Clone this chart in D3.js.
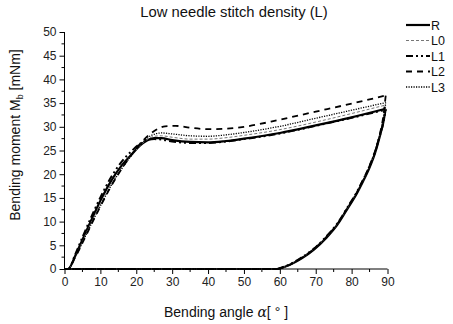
<!DOCTYPE html>
<html>
<head>
<meta charset="utf-8">
<script src="https://cdn.jsdelivr.net/npm/d3@7/dist/d3.min.js"></script>
<style>
  html, body { margin: 0; padding: 0; background: #fff; }
  svg { display: block; font-family: "Liberation Sans", Arial, sans-serif; }
</style>
</head>
<body>
<svg id="chart" width="453" height="324"></svg>
<script>
// Bending moment vs. bending angle, loading and unloading branches per sample
const seriesNames = ["R", "L0", "L1", "L2", "L3"];

// loading branch: [angle in deg, moment in mNm]
const loadR  = [[0,0],[1,0],[3,2.8],[5,6.2],[8,11.2],[10,14.4],[13,18.6],[16,21.9],[19,24.4],[21,26.0],[23,27.1],[25,27.6],[27,27.6],[30,27.2],[35,26.8],[40,26.7],[45,27.0],[50,27.5],[60,28.7],[70,30.3],[80,32.0],[89.5,33.8]];
const loadL0 = [[0,0],[1,0],[3,2.6],[5,5.8],[8,10.6],[10,13.7],[13,17.9],[16,21.4],[19,24.2],[21,26.0],[23,27.3],[25,28.0],[27,28.1],[30,27.8],[35,27.4],[40,27.4],[45,27.7],[50,28.2],[60,29.4],[70,31.0],[80,32.8],[89.5,34.6]];
const loadL1 = [[0,0],[1,0],[3,3.1],[5,6.7],[8,11.9],[10,15.1],[13,19.4],[16,22.7],[19,25.1],[21,26.4],[23,27.2],[25,27.4],[27,27.3],[30,26.9],[35,26.6],[40,26.6],[45,26.9],[50,27.4],[60,28.6],[70,30.2],[80,31.9],[89.5,33.6]];
const loadL2 = [[0,0],[1,0],[3,2.5],[5,5.5],[8,10.2],[10,13.2],[13,17.5],[16,21.2],[19,24.4],[22,27.2],[25,29.1],[28,30.1],[31,30.2],[35,29.8],[40,29.5],[45,29.6],[50,30.0],[60,31.5],[70,33.2],[80,34.9],[89.5,36.6]];
const loadL3 = [[0,0],[1,0],[3,2.5],[5,5.6],[8,10.3],[10,13.3],[13,17.6],[16,21.2],[19,24.3],[22,26.9],[24,28.1],[27,28.7],[30,28.5],[35,28.1],[40,28.0],[45,28.3],[50,28.8],[60,30.1],[70,31.8],[80,33.5],[89.5,35.1]];

// unloading branch, listed from zero moment up to the turning point
const unloadR  = [[59.5,0],[62.5,0.8],[66,2.2],[69.5,4.1],[73,6.6],[76,9.3],[79,12.9],[81.5,16.0],[83,18.2],[85,21.4],[86.5,24.4],[88,28.4],[88.8,30.8],[89.5,33.8]];
const unloadL0 = [[59.3,0],[62.5,0.8],[66,2.3],[69.5,4.2],[73,6.7],[76,9.4],[79,13.0],[81.5,16.1],[83,18.3],[85,21.6],[86.5,24.6],[88,28.7],[88.8,31.3],[89.5,34.6]];
const unloadL1 = [[59.3,0],[62.5,0.9],[66,2.4],[69.5,4.3],[73,6.9],[76,9.6],[79,13.2],[81.5,16.3],[83,18.5],[85,21.7],[86.5,24.6],[88,28.5],[88.8,30.7],[89.5,33.6]];
const unloadL2 = [[59.4,0],[62.5,0.8],[66,2.3],[69.5,4.2],[73,6.8],[76,9.5],[79,13.1],[81.5,16.2],[83,18.5],[85,21.8],[86.5,24.8],[88,28.9],[88.8,32.0],[89.5,36.6]];
const unloadL3 = [[59.4,0],[62.5,0.8],[66,2.3],[69.5,4.2],[73,6.8],[76,9.5],[79,13.1],[81.5,16.2],[83,18.4],[85,21.7],[86.5,24.7],[88,28.8],[88.8,31.5],[89.5,35.1]];

const xTicks = [0, 10, 20, 30, 40, 50, 60, 70, 80, 90];
const yTicks = [0, 5, 10, 15, 20, 25, 30, 35, 40, 45, 50];

const series = [
  { name: "R",  load: loadR,  unload: unloadR,  color: "#000", width: 2.2, dash: null },
  { name: "L0", load: loadL0, unload: unloadL0, color: "#777", width: 1.0, dash: "3,2" },
  { name: "L1", load: loadL1, unload: unloadL1, color: "#000", width: 2.0, dash: "7,3,2,3,2,3" },
  { name: "L2", load: loadL2, unload: unloadL2, color: "#000", width: 1.8, dash: "6,5" },
  { name: "L3", load: loadL3, unload: unloadL3, color: "#000", width: 1.3, dash: "1.2,1.3" }
];

const svg = d3.select("#chart");
const margin = { left: 64.5, right: 65.5, top: 32, bottom: 55 };
const W = 453, H = 324;

const x = d3.scaleLinear().domain([0, 90]).range([margin.left, W - margin.right]);
const y = d3.scaleLinear().domain([0, 50]).range([H - margin.bottom, margin.top]);

// axes with minor ticks
const xMinor = d3.range(5, 90, 10);
const yMinor = d3.range(2.5, 50, 5);

const gx = svg.append("g").attr("transform", `translate(0,${y(0)})`);
gx.call(d3.axisBottom(x).tickValues(xTicks).tickSize(5).tickPadding(3).tickFormat(d3.format("d")));
gx.append("g").selectAll("line").data(xMinor).join("line")
  .attr("x1", d => x(d)).attr("x2", d => x(d)).attr("y1", 0).attr("y2", 3)
  .attr("stroke", "#000");

const gy = svg.append("g").attr("transform", `translate(${x(0)},0)`);
gy.call(d3.axisLeft(y).tickValues(yTicks).tickSize(5).tickPadding(3).tickFormat(d3.format("d")));
gy.append("g").selectAll("line").data(yMinor).join("line")
  .attr("y1", d => y(d)).attr("y2", d => y(d)).attr("x1", 0).attr("x2", -3)
  .attr("stroke", "#000");

[gx, gy].forEach(g => {
  g.select(".domain").attr("stroke", "#000").attr("stroke-width", 1);
  g.selectAll(".tick line").attr("stroke", "#000");
  g.selectAll(".tick text").attr("font-size", 12).attr("fill", "#222")
    .attr("font-family", "Liberation Sans, Arial, sans-serif");
});
gx.select(".domain").attr("d", `M${x(0)},0H${x(90)}`);
gy.select(".domain").attr("d", `M0,${y(0)}V${y(50)}`);

// curves
const line = d3.line().x(d => x(d[0])).y(d => y(d[1])).curve(d3.curveMonotoneX);
const flat = d3.line().x(d => x(d[0])).y(d => y(d[1]));

const plot = svg.append("g");
series.forEach(s => {
  const style = p => p.attr("fill", "none").attr("stroke", s.color)
    .attr("stroke-width", s.width).attr("stroke-dasharray", s.dash);
  plot.append("path").attr("d", line(s.load)).call(style);
  plot.append("path").attr("d", line(s.unload)).call(style);
  // return along zero moment to the origin
  plot.append("path").attr("d", flat([[0, 0], s.unload[0]])).call(style);
});

// title
svg.append("text").attr("x", 234).attr("y", 17).attr("text-anchor", "middle")
  .attr("font-size", 14.8).attr("fill", "#111").text("Low needle stitch density (L)");

// axis titles
const yl = svg.append("text")
  .attr("transform", `translate(20,135) rotate(-90)`)
  .attr("text-anchor", "middle").attr("font-size", 14).attr("fill", "#111");
yl.append("tspan").text("Bending moment M");
yl.append("tspan").attr("font-size", 9).attr("dy", 3).text("b");
yl.append("tspan").attr("dy", -3).text(" [mNm]");

const xl = svg.append("text").attr("x", 226).attr("y", 317)
  .attr("text-anchor", "middle").attr("font-size", 14).attr("fill", "#111");
xl.append("tspan").text("Bending angle ");
xl.append("tspan").attr("font-style", "italic").attr("font-family", "DejaVu Serif, serif").text("α");
xl.append("tspan").text("[ ° ]");

// legend
const legY = [25, 40.5, 56, 71.5, 87];
const leg = svg.append("g");
series.forEach((s, i) => {
  leg.append("line").attr("x1", 406).attr("x2", 430).attr("y1", legY[i]).attr("y2", legY[i])
    .attr("stroke", s.color).attr("stroke-width", s.width).attr("stroke-dasharray", s.dash);
  leg.append("text").attr("x", 431).attr("y", legY[i] + 4.5)
    .attr("font-size", 12.5).attr("fill", "#111").text(seriesNames[i]);
});
</script>
</body>
</html>
